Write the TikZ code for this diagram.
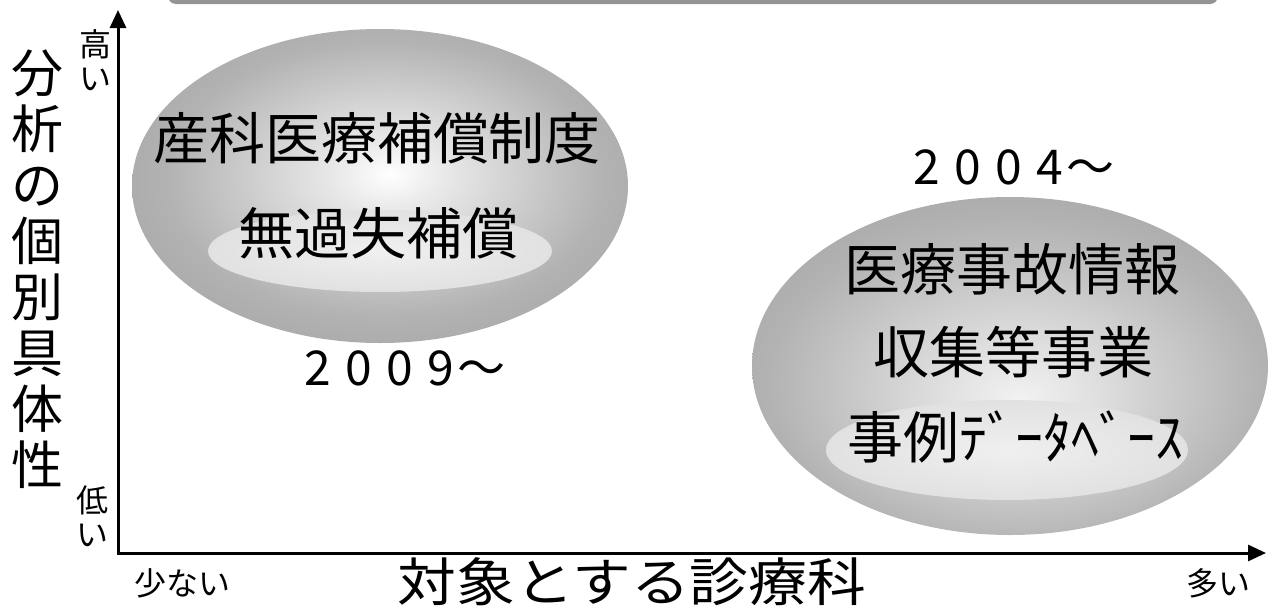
\documentclass[tikz,border=0pt]{standalone}
\usepackage{fontspec}
\setmainfont{Noto Sans CJK JP}
\usetikzlibrary{arrows.meta}
\pgfdeclareradialshading{leftsh}{\pgfpoint{1bp}{2bp}}{color(0bp)=(white); color(5bp)=(white!92!black); color(22bp)=(black!30); color(50bp)=(black!46)}
\pgfdeclareradialshading{rightsh}{\pgfpoint{1bp}{-5bp}}{color(0bp)=(white!95!black); color(7bp)=(white!88!black); color(24bp)=(black!30); color(50bp)=(black!46)}
\pgfdeclareradialshading{innersh}{\pgfpoint{0bp}{0bp}}{color(0bp)=(white!94!black); color(35bp)=(white!86!black); color(50bp)=(white!80!black)}
\newcommand\ydig[1]{\makebox[41pt]{#1}}
\begin{document}
\begin{tikzpicture}[x=1pt,y=-1pt,
  axis/.style={line width=3pt,line cap=rect,-{Triangle[length=18pt,width=16pt]}},
  bigtext/.style={font=\fontsize{56}{60}\selectfont,inner sep=0pt},
  yeartext/.style={font=\fontsize{48}{50}\selectfont,inner sep=0pt},
  ylabel/.style={font=\fontsize{52}{56}\selectfont,inner sep=0pt,align=center},
  xlabel/.style={font=\fontsize{52}{56}\selectfont,inner sep=0pt},
  endlabel/.style={font=\fontsize{32}{34}\selectfont,inner sep=0pt,align=center}
]
\useasboundingbox (0,0) rectangle (1270,608);
% top band (bottom of a cut-off rounded box)
\begin{scope}
  \clip (0,0) rectangle (1270,608);
  \fill[black!42,rounded corners=8pt] (168,-40) rectangle (1218,4);
\end{scope}
% left ellipse
\shade[shading=leftsh] (380,186) ellipse [x radius=248, y radius=157];
\shade[shading=innersh] (380,251) ellipse [x radius=172, y radius=41];
% right ellipse
\shade[shading=rightsh] (1010,366) ellipse [x radius=258, y radius=169];
\shade[shading=innersh] (1007,450) ellipse [x radius=181, y radius=50];
% texts
\node[bigtext] (sanka) at (377,138) {産科医療補償制度};
\node[bigtext] (mukashitsu) at (378,233) {無過失補償};
\node[bigtext] (iryo) at (1012,269) {医療事故情報};
\node[bigtext] (shushu) at (1013,352) {収集等事業};
\node[bigtext] (jirei) at (1015,437) {事例ﾃﾞｰﾀﾍﾞｰｽ};
\node[yeartext] (y2009) at (400,368) {\ydig{2}\ydig{0}\ydig{0}\ydig{9}\ydig{～}};
\node[yeartext] (y2004) at (1009,167) {\ydig{2}\ydig{0}\ydig{0}\ydig{4}\ydig{～}};
% axes
\coordinate (o) at (118,553);
\coordinate (ytip) at (118,10);
\coordinate (xtip) at (1266,553);
\draw[axis] (o) -- (ytip);
\draw[axis] (o) -- (xtip);
% axis labels
\node[ylabel] (yl) at (38,269) {分\\析\\の\\個\\別\\具\\体\\性};
\node[endlabel] (high) at (95,60) {高\\い};
\node[endlabel] (low) at (92,516) {低\\い};
\node[endlabel] (few) at (182,583) {少ない};
\node[xlabel] (xl) at (632,582) {\scalebox{1.13}[1]{対象とする診療科}};
\node[endlabel] (many) at (1218,583) {多い};
\end{tikzpicture}
\end{document}
